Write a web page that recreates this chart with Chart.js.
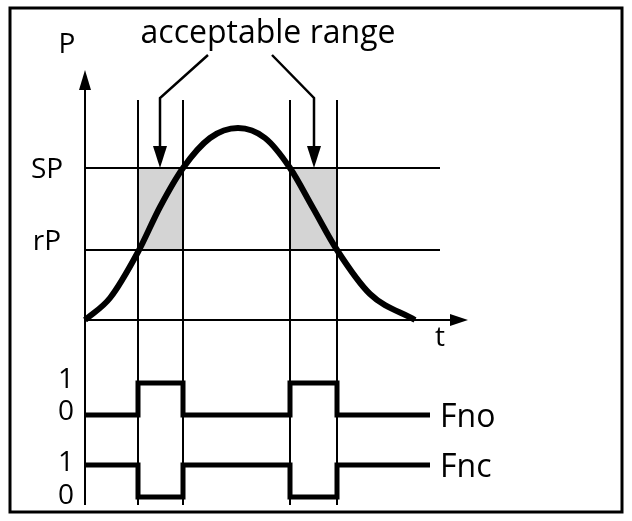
<!DOCTYPE html>
<html><head><meta charset="utf-8">
<script src="https://cdn.jsdelivr.net/npm/chart.js@4"></script>
<style>body{margin:0;background:#fff}canvas{display:block}</style>
</head><body>
<canvas id="c" width="632" height="521"></canvas>
<script>
// diagram coordinates (x right, y down)
const curveX = [85, 110, 138, 160, 183, 210, 238, 265, 290, 313, 337, 370, 415];
const curveY = [320, 298, 252, 207, 168, 138, 128, 138, 168, 208, 250, 294, 320];
const windowEdges = [138, 183, 290, 337];
const spY = 168, rpY = 250;
const fnoX = [85, 138, 138, 183, 183, 290, 290, 337, 337, 430];
const fnoY = [415, 415, 383, 383, 415, 415, 383, 383, 415, 415];
const fncX = [85, 138, 138, 183, 183, 290, 290, 337, 337, 430];
const fncY = [465, 465, 497, 497, 465, 465, 497, 497, 465, 465];
const labels = [
	{ text: "acceptable range", x: 268, y: 34, size: 32, align: "center" },
	{ text: "P", x: 67, y: 45, size: 28, align: "center" },
	{ text: "SP", x: 47, y: 170, size: 28, align: "center" },
	{ text: "rP", x: 47, y: 242, size: 28, align: "center" },
	{ text: "t", x: 440, y: 338, size: 28, align: "center" },
	{ text: "1", x: 66, y: 380, size: 28, align: "center" },
	{ text: "0", x: 66, y: 412, size: 28, align: "center" },
	{ text: "1", x: 66, y: 463, size: 28, align: "center" },
	{ text: "0", x: 66, y: 496, size: 28, align: "center" },
	{ text: "Fno", x: 440, y: 418, size: 32, align: "left" },
	{ text: "Fnc", x: 440, y: 468, size: 32, align: "left" },
];

const pts = (xs, ys) => xs.map((x, i) => ({ x: x, y: ys[i] }));
const seg = (x1, y1, x2, y2) => [{ x: x1, y: y1 }, { x: x2, y: y2 }];
const line = (data, w) => ({ data: data, borderColor: "#000", borderWidth: w, pointRadius: 0, fill: false, tension: 0 });

let datasets = [];
datasets.push(line(seg(85, spY, 440, spY), 2));
datasets.push(line(seg(85, rpY, 440, rpY), 2));
windowEdges.forEach((x) => datasets.push(line(seg(x, 100, x, 505), 2)));
datasets.push(line(seg(85, 80, 85, 505), 2)); // P axis
datasets.push(line(seg(85, 320, 458, 320), 2)); // t axis
// arrows from label
datasets.push(line([{ x: 208, y: 55 }, { x: 160, y: 98 }, { x: 160, y: 150 }], 2.5));
datasets.push(line([{ x: 272, y: 55 }, { x: 314, y: 98 }, { x: 314, y: 150 }], 2.5));
datasets.push(line(pts(fnoX, fnoY), 5));
datasets.push(line(pts(fncX, fncY), 5));
let curve = line(pts(curveX, curveY), 6);
curve.cubicInterpolationMode = "monotone";
datasets.push(curve);

const decor = {
	id: "decor",
	beforeDatasetsDraw(chart) {
		const ctx = chart.ctx, sx = chart.scales.x, sy = chart.scales.y;
		const X = (v) => sx.getPixelForValue(v), Y = (v) => sy.getPixelForValue(v);
		ctx.save();
		ctx.fillStyle = "#d4d4d4";
		for (let i = 0; i < windowEdges.length; i += 2) {
			ctx.fillRect(X(windowEdges[i]), Y(spY), X(windowEdges[i + 1]) - X(windowEdges[i]), Y(rpY) - Y(spY));
		}
		ctx.restore();
	},
	afterDatasetsDraw(chart) {
		const ctx = chart.ctx, sx = chart.scales.x, sy = chart.scales.y;
		const X = (v) => sx.getPixelForValue(v), Y = (v) => sy.getPixelForValue(v);
		ctx.save();
		ctx.strokeStyle = "#000"; ctx.lineWidth = 3;
		ctx.strokeRect(X(10), Y(8), X(622) - X(10), Y(512) - Y(8));
		ctx.fillStyle = "#000";
		const tri = (p) => { ctx.beginPath(); ctx.moveTo(X(p[0]), Y(p[1])); ctx.lineTo(X(p[2]), Y(p[3])); ctx.lineTo(X(p[4]), Y(p[5])); ctx.fill(); };
		tri([85, 70, 79, 90, 91, 90]);
		tri([468, 320, 450, 314, 450, 326]);
		tri([160, 168, 153, 146, 167, 146]);
		tri([314, 168, 307, 146, 321, 146]);
		ctx.textBaseline = "middle";
		labels.forEach((l) => {
			ctx.font = l.size + "px 'Open Sans', 'DejaVu Sans', sans-serif";
			ctx.textAlign = l.align;
			ctx.fillText(l.text, X(l.x), Y(l.y));
		});
		ctx.restore();
	},
};

new Chart(document.getElementById("c"), {
	type: "line",
	data: { datasets: datasets },
	options: {
		responsive: false, animation: false,
		layout: { padding: 0 },
		scales: {
			x: { type: "linear", min: 0, max: 632, display: false },
			y: { type: "linear", min: 0, max: 521, reverse: true, display: false },
		},
		plugins: { legend: { display: false }, tooltip: { enabled: false } },
	},
	plugins: [decor],
});
</script>
</body></html>
